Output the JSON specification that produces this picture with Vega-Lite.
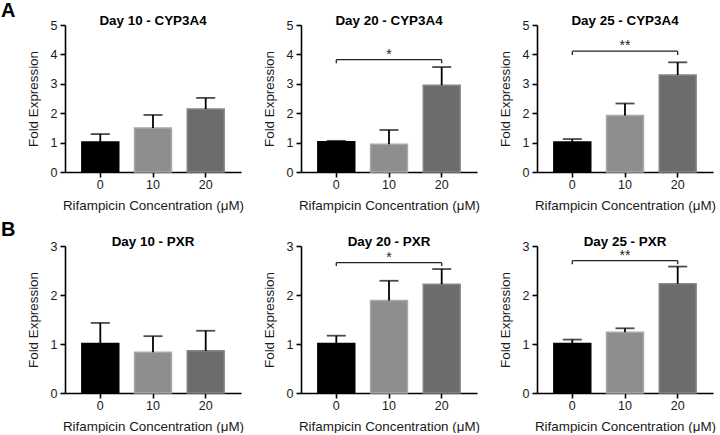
{
  "$schema": "https://vega.github.io/schema/vega-lite/v6.json",
  "padding": {"left": 1, "top": 1, "right": 0, "bottom": 0},
  "datasets": {
    "bars": [
      {"panel": "p1", "conc": "0", "mean": 1.02, "upper": 1.29},
      {"panel": "p1", "conc": "10", "mean": 1.50, "upper": 1.94},
      {"panel": "p1", "conc": "20", "mean": 2.14, "upper": 2.52},
      {"panel": "p2", "conc": "0", "mean": 1.03, "upper": 1.06},
      {"panel": "p2", "conc": "10", "mean": 0.94, "upper": 1.43},
      {"panel": "p2", "conc": "20", "mean": 2.95, "upper": 3.57},
      {"panel": "p3", "conc": "0", "mean": 1.02, "upper": 1.12},
      {"panel": "p3", "conc": "10", "mean": 1.92, "upper": 2.33},
      {"panel": "p3", "conc": "20", "mean": 3.30, "upper": 3.73},
      {"panel": "p4", "conc": "0", "mean": 1.01, "upper": 1.43},
      {"panel": "p4", "conc": "10", "mean": 0.83, "upper": 1.16},
      {"panel": "p4", "conc": "20", "mean": 0.86, "upper": 1.27},
      {"panel": "p5", "conc": "0", "mean": 1.01, "upper": 1.17},
      {"panel": "p5", "conc": "10", "mean": 1.89, "upper": 2.29},
      {"panel": "p5", "conc": "20", "mean": 2.22, "upper": 2.53},
      {"panel": "p6", "conc": "0", "mean": 1.01, "upper": 1.09},
      {"panel": "p6", "conc": "10", "mean": 1.24, "upper": 1.32},
      {"panel": "p6", "conc": "20", "mean": 2.23, "upper": 2.58}
    ],
    "sig": [
      {"panel": "p2", "from": "0", "to": "20", "mid": "10", "y": 3.82, "yd": 3.70, "label": "*"},
      {"panel": "p3", "from": "0", "to": "20", "mid": "10", "y": 4.11, "yd": 3.98, "label": "**"},
      {"panel": "p5", "from": "0", "to": "20", "mid": "10", "y": 2.66, "yd": 2.59, "label": "*"},
      {"panel": "p6", "from": "0", "to": "20", "mid": "10", "y": 2.70, "yd": 2.63, "label": "**"}
    ]
  },
  "spacing": 8,
  "vconcat": [
    {
      "title": {"text": "A", "anchor": "start", "frame": "bounds", "fontSize": 20, "fontWeight": "bold", "font": "Liberation Sans", "color": "#000", "dx": -25, "offset": -23, "baseline": "alphabetic"},
      "spacing": 18,
      "hconcat": [
        {
          "width": 176, "height": 147,
          "title": {"text": "Day 10 - CYP3A4"},
          "encoding": {"x": {"field": "conc", "type": "ordinal", "title": "Rifampicin Concentration (μM)", "sort": ["0", "10", "20"], "scale": {"domain": ["0", "10", "20"], "paddingInner": 0.3, "paddingOuter": 0.32}, "axis": {"labelAngle": 0}}},
          "layer": [
            {"data": {"name": "bars"}, "transform": [{"filter": "datum.panel === 'p1'"}],
             "layer": [
               {"mark": {"type": "bar", "strokeWidth": 1.5}, "encoding": {
                 "y": {"field": "mean", "type": "quantitative", "title": "Fold Expression", "scale": {"domain": [0, 5], "nice": false}, "axis": {"values": [0, 1, 2, 3, 4, 5]}},
                 "color": {"field": "conc", "type": "nominal", "scale": {"domain": ["0", "10", "20"], "range": ["#000000", "#8e8e8e", "#6c6c6c"]}, "legend": null},
                 "stroke": {"field": "conc", "type": "nominal", "scale": {"domain": ["0", "10", "20"], "range": ["#000000", "#a8a8a8", "#858585"]}, "legend": null}}},
               {"mark": {"type": "rule", "strokeWidth": 1.8, "color": "#000"}, "encoding": {"y": {"field": "mean", "type": "quantitative", "title": "Fold Expression", "axis": {"values": [0, 1, 2, 3, 4, 5]}}, "y2": {"field": "upper"}}},
               {"mark": {"type": "tick", "size": 19, "thickness": 1.8, "color": "#000"}, "encoding": {"y": {"field": "upper", "type": "quantitative", "title": "Fold Expression", "axis": {"values": [0, 1, 2, 3, 4, 5]}}}}
             ]}
          ]
        },
        {
          "width": 176, "height": 147,
          "title": {"text": "Day 20 - CYP3A4"},
          "encoding": {"x": {"field": "conc", "type": "ordinal", "title": "Rifampicin Concentration (μM)", "sort": ["0", "10", "20"], "scale": {"domain": ["0", "10", "20"], "paddingInner": 0.3, "paddingOuter": 0.32}, "axis": {"labelAngle": 0}}},
          "layer": [
            {"data": {"name": "bars"}, "transform": [{"filter": "datum.panel === 'p2'"}],
             "layer": [
               {"mark": {"type": "bar", "strokeWidth": 1.5}, "encoding": {
                 "y": {"field": "mean", "type": "quantitative", "title": "Fold Expression", "scale": {"domain": [0, 5], "nice": false}, "axis": {"values": [0, 1, 2, 3, 4, 5]}},
                 "color": {"field": "conc", "type": "nominal", "scale": {"domain": ["0", "10", "20"], "range": ["#000000", "#8e8e8e", "#6c6c6c"]}, "legend": null},
                 "stroke": {"field": "conc", "type": "nominal", "scale": {"domain": ["0", "10", "20"], "range": ["#000000", "#a8a8a8", "#858585"]}, "legend": null}}},
               {"mark": {"type": "rule", "strokeWidth": 1.8, "color": "#000"}, "encoding": {"y": {"field": "mean", "type": "quantitative", "title": "Fold Expression", "axis": {"values": [0, 1, 2, 3, 4, 5]}}, "y2": {"field": "upper"}}},
               {"mark": {"type": "tick", "size": 19, "thickness": 1.8, "color": "#000"}, "encoding": {"y": {"field": "upper", "type": "quantitative", "title": "Fold Expression", "axis": {"values": [0, 1, 2, 3, 4, 5]}}}}
             ]},
            {"data": {"name": "sig"}, "transform": [{"filter": "datum.panel === 'p2'"}],
             "layer": [
               {"mark": {"type": "rule", "strokeWidth": 1.3, "color": "#222"}, "encoding": {"x": {"field": "from", "type": "ordinal", "title": "Rifampicin Concentration (μM)"}, "x2": {"field": "to"}, "y": {"field": "y", "type": "quantitative", "title": "Fold Expression", "axis": {"values": [0, 1, 2, 3, 4, 5]}}}},
               {"mark": {"type": "rule", "strokeWidth": 1.3, "color": "#222"}, "encoding": {"x": {"field": "from", "type": "ordinal", "title": "Rifampicin Concentration (μM)"}, "y": {"field": "y", "type": "quantitative", "title": "Fold Expression", "axis": {"values": [0, 1, 2, 3, 4, 5]}}, "y2": {"field": "yd"}}},
               {"mark": {"type": "rule", "strokeWidth": 1.3, "color": "#222"}, "encoding": {"x": {"field": "to", "type": "ordinal", "title": "Rifampicin Concentration (μM)"}, "y": {"field": "y", "type": "quantitative", "title": "Fold Expression", "axis": {"values": [0, 1, 2, 3, 4, 5]}}, "y2": {"field": "yd"}}},
               {"mark": {"type": "text", "fontSize": 14, "baseline": "alphabetic", "dy": -1, "color": "#222"}, "encoding": {"x": {"field": "mid", "type": "ordinal", "title": "Rifampicin Concentration (μM)"}, "y": {"field": "y", "type": "quantitative", "title": "Fold Expression", "axis": {"values": [0, 1, 2, 3, 4, 5]}}, "text": {"field": "label"}}}
             ]}
          ]
        },
        {
          "width": 176, "height": 147,
          "title": {"text": "Day 25 - CYP3A4"},
          "encoding": {"x": {"field": "conc", "type": "ordinal", "title": "Rifampicin Concentration (μM)", "sort": ["0", "10", "20"], "scale": {"domain": ["0", "10", "20"], "paddingInner": 0.3, "paddingOuter": 0.32}, "axis": {"labelAngle": 0}}},
          "layer": [
            {"data": {"name": "bars"}, "transform": [{"filter": "datum.panel === 'p3'"}],
             "layer": [
               {"mark": {"type": "bar", "strokeWidth": 1.5}, "encoding": {
                 "y": {"field": "mean", "type": "quantitative", "title": "Fold Expression", "scale": {"domain": [0, 5], "nice": false}, "axis": {"values": [0, 1, 2, 3, 4, 5]}},
                 "color": {"field": "conc", "type": "nominal", "scale": {"domain": ["0", "10", "20"], "range": ["#000000", "#8e8e8e", "#6c6c6c"]}, "legend": null},
                 "stroke": {"field": "conc", "type": "nominal", "scale": {"domain": ["0", "10", "20"], "range": ["#000000", "#a8a8a8", "#858585"]}, "legend": null}}},
               {"mark": {"type": "rule", "strokeWidth": 1.8, "color": "#000"}, "encoding": {"y": {"field": "mean", "type": "quantitative", "title": "Fold Expression", "axis": {"values": [0, 1, 2, 3, 4, 5]}}, "y2": {"field": "upper"}}},
               {"mark": {"type": "tick", "size": 19, "thickness": 1.8, "color": "#000"}, "encoding": {"y": {"field": "upper", "type": "quantitative", "title": "Fold Expression", "axis": {"values": [0, 1, 2, 3, 4, 5]}}}}
             ]},
            {"data": {"name": "sig"}, "transform": [{"filter": "datum.panel === 'p3'"}],
             "layer": [
               {"mark": {"type": "rule", "strokeWidth": 1.3, "color": "#222"}, "encoding": {"x": {"field": "from", "type": "ordinal", "title": "Rifampicin Concentration (μM)"}, "x2": {"field": "to"}, "y": {"field": "y", "type": "quantitative", "title": "Fold Expression", "axis": {"values": [0, 1, 2, 3, 4, 5]}}}},
               {"mark": {"type": "rule", "strokeWidth": 1.3, "color": "#222"}, "encoding": {"x": {"field": "from", "type": "ordinal", "title": "Rifampicin Concentration (μM)"}, "y": {"field": "y", "type": "quantitative", "title": "Fold Expression", "axis": {"values": [0, 1, 2, 3, 4, 5]}}, "y2": {"field": "yd"}}},
               {"mark": {"type": "rule", "strokeWidth": 1.3, "color": "#222"}, "encoding": {"x": {"field": "to", "type": "ordinal", "title": "Rifampicin Concentration (μM)"}, "y": {"field": "y", "type": "quantitative", "title": "Fold Expression", "axis": {"values": [0, 1, 2, 3, 4, 5]}}, "y2": {"field": "yd"}}},
               {"mark": {"type": "text", "fontSize": 14, "baseline": "alphabetic", "dy": -1, "color": "#222"}, "encoding": {"x": {"field": "mid", "type": "ordinal", "title": "Rifampicin Concentration (μM)"}, "y": {"field": "y", "type": "quantitative", "title": "Fold Expression", "axis": {"values": [0, 1, 2, 3, 4, 5]}}, "text": {"field": "label"}}}
             ]}
          ]
        }
      ]
    },
    {
      "title": {"text": "B", "anchor": "start", "frame": "bounds", "fontSize": 20, "fontWeight": "bold", "font": "Liberation Sans", "color": "#000", "dx": -25, "offset": -21, "baseline": "alphabetic"},
      "spacing": 18,
      "hconcat": [
        {
          "width": 176, "height": 147,
          "title": {"text": "Day 10 - PXR"},
          "encoding": {"x": {"field": "conc", "type": "ordinal", "title": "Rifampicin Concentration (μM)", "sort": ["0", "10", "20"], "scale": {"domain": ["0", "10", "20"], "paddingInner": 0.3, "paddingOuter": 0.32}, "axis": {"labelAngle": 0}}},
          "layer": [
            {"data": {"name": "bars"}, "transform": [{"filter": "datum.panel === 'p4'"}],
             "layer": [
               {"mark": {"type": "bar", "strokeWidth": 1.5}, "encoding": {
                 "y": {"field": "mean", "type": "quantitative", "title": "Fold Expression", "scale": {"domain": [0, 3], "nice": false}, "axis": {"values": [0, 1, 2, 3]}},
                 "color": {"field": "conc", "type": "nominal", "scale": {"domain": ["0", "10", "20"], "range": ["#000000", "#8e8e8e", "#6c6c6c"]}, "legend": null},
                 "stroke": {"field": "conc", "type": "nominal", "scale": {"domain": ["0", "10", "20"], "range": ["#000000", "#a8a8a8", "#858585"]}, "legend": null}}},
               {"mark": {"type": "rule", "strokeWidth": 1.8, "color": "#000"}, "encoding": {"y": {"field": "mean", "type": "quantitative", "title": "Fold Expression", "axis": {"values": [0, 1, 2, 3]}}, "y2": {"field": "upper"}}},
               {"mark": {"type": "tick", "size": 19, "thickness": 1.8, "color": "#000"}, "encoding": {"y": {"field": "upper", "type": "quantitative", "title": "Fold Expression", "axis": {"values": [0, 1, 2, 3]}}}}
             ]}
          ]
        },
        {
          "width": 176, "height": 147,
          "title": {"text": "Day 20 - PXR"},
          "encoding": {"x": {"field": "conc", "type": "ordinal", "title": "Rifampicin Concentration (μM)", "sort": ["0", "10", "20"], "scale": {"domain": ["0", "10", "20"], "paddingInner": 0.3, "paddingOuter": 0.32}, "axis": {"labelAngle": 0}}},
          "layer": [
            {"data": {"name": "bars"}, "transform": [{"filter": "datum.panel === 'p5'"}],
             "layer": [
               {"mark": {"type": "bar", "strokeWidth": 1.5}, "encoding": {
                 "y": {"field": "mean", "type": "quantitative", "title": "Fold Expression", "scale": {"domain": [0, 3], "nice": false}, "axis": {"values": [0, 1, 2, 3]}},
                 "color": {"field": "conc", "type": "nominal", "scale": {"domain": ["0", "10", "20"], "range": ["#000000", "#8e8e8e", "#6c6c6c"]}, "legend": null},
                 "stroke": {"field": "conc", "type": "nominal", "scale": {"domain": ["0", "10", "20"], "range": ["#000000", "#a8a8a8", "#858585"]}, "legend": null}}},
               {"mark": {"type": "rule", "strokeWidth": 1.8, "color": "#000"}, "encoding": {"y": {"field": "mean", "type": "quantitative", "title": "Fold Expression", "axis": {"values": [0, 1, 2, 3]}}, "y2": {"field": "upper"}}},
               {"mark": {"type": "tick", "size": 19, "thickness": 1.8, "color": "#000"}, "encoding": {"y": {"field": "upper", "type": "quantitative", "title": "Fold Expression", "axis": {"values": [0, 1, 2, 3]}}}}
             ]},
            {"data": {"name": "sig"}, "transform": [{"filter": "datum.panel === 'p5'"}],
             "layer": [
               {"mark": {"type": "rule", "strokeWidth": 1.3, "color": "#222"}, "encoding": {"x": {"field": "from", "type": "ordinal", "title": "Rifampicin Concentration (μM)"}, "x2": {"field": "to"}, "y": {"field": "y", "type": "quantitative", "title": "Fold Expression", "axis": {"values": [0, 1, 2, 3]}}}},
               {"mark": {"type": "rule", "strokeWidth": 1.3, "color": "#222"}, "encoding": {"x": {"field": "from", "type": "ordinal", "title": "Rifampicin Concentration (μM)"}, "y": {"field": "y", "type": "quantitative", "title": "Fold Expression", "axis": {"values": [0, 1, 2, 3]}}, "y2": {"field": "yd"}}},
               {"mark": {"type": "rule", "strokeWidth": 1.3, "color": "#222"}, "encoding": {"x": {"field": "to", "type": "ordinal", "title": "Rifampicin Concentration (μM)"}, "y": {"field": "y", "type": "quantitative", "title": "Fold Expression", "axis": {"values": [0, 1, 2, 3]}}, "y2": {"field": "yd"}}},
               {"mark": {"type": "text", "fontSize": 14, "baseline": "alphabetic", "dy": -1, "color": "#222"}, "encoding": {"x": {"field": "mid", "type": "ordinal", "title": "Rifampicin Concentration (μM)"}, "y": {"field": "y", "type": "quantitative", "title": "Fold Expression", "axis": {"values": [0, 1, 2, 3]}}, "text": {"field": "label"}}}
             ]}
          ]
        },
        {
          "width": 176, "height": 147,
          "title": {"text": "Day 25 - PXR"},
          "encoding": {"x": {"field": "conc", "type": "ordinal", "title": "Rifampicin Concentration (μM)", "sort": ["0", "10", "20"], "scale": {"domain": ["0", "10", "20"], "paddingInner": 0.3, "paddingOuter": 0.32}, "axis": {"labelAngle": 0}}},
          "layer": [
            {"data": {"name": "bars"}, "transform": [{"filter": "datum.panel === 'p6'"}],
             "layer": [
               {"mark": {"type": "bar", "strokeWidth": 1.5}, "encoding": {
                 "y": {"field": "mean", "type": "quantitative", "title": "Fold Expression", "scale": {"domain": [0, 3], "nice": false}, "axis": {"values": [0, 1, 2, 3]}},
                 "color": {"field": "conc", "type": "nominal", "scale": {"domain": ["0", "10", "20"], "range": ["#000000", "#8e8e8e", "#6c6c6c"]}, "legend": null},
                 "stroke": {"field": "conc", "type": "nominal", "scale": {"domain": ["0", "10", "20"], "range": ["#000000", "#a8a8a8", "#858585"]}, "legend": null}}},
               {"mark": {"type": "rule", "strokeWidth": 1.8, "color": "#000"}, "encoding": {"y": {"field": "mean", "type": "quantitative", "title": "Fold Expression", "axis": {"values": [0, 1, 2, 3]}}, "y2": {"field": "upper"}}},
               {"mark": {"type": "tick", "size": 19, "thickness": 1.8, "color": "#000"}, "encoding": {"y": {"field": "upper", "type": "quantitative", "title": "Fold Expression", "axis": {"values": [0, 1, 2, 3]}}}}
             ]},
            {"data": {"name": "sig"}, "transform": [{"filter": "datum.panel === 'p6'"}],
             "layer": [
               {"mark": {"type": "rule", "strokeWidth": 1.3, "color": "#222"}, "encoding": {"x": {"field": "from", "type": "ordinal", "title": "Rifampicin Concentration (μM)"}, "x2": {"field": "to"}, "y": {"field": "y", "type": "quantitative", "title": "Fold Expression", "axis": {"values": [0, 1, 2, 3]}}}},
               {"mark": {"type": "rule", "strokeWidth": 1.3, "color": "#222"}, "encoding": {"x": {"field": "from", "type": "ordinal", "title": "Rifampicin Concentration (μM)"}, "y": {"field": "y", "type": "quantitative", "title": "Fold Expression", "axis": {"values": [0, 1, 2, 3]}}, "y2": {"field": "yd"}}},
               {"mark": {"type": "rule", "strokeWidth": 1.3, "color": "#222"}, "encoding": {"x": {"field": "to", "type": "ordinal", "title": "Rifampicin Concentration (μM)"}, "y": {"field": "y", "type": "quantitative", "title": "Fold Expression", "axis": {"values": [0, 1, 2, 3]}}, "y2": {"field": "yd"}}},
               {"mark": {"type": "text", "fontSize": 14, "baseline": "alphabetic", "dy": -1, "color": "#222"}, "encoding": {"x": {"field": "mid", "type": "ordinal", "title": "Rifampicin Concentration (μM)"}, "y": {"field": "y", "type": "quantitative", "title": "Fold Expression", "axis": {"values": [0, 1, 2, 3]}}, "text": {"field": "label"}}}
             ]}
          ]
        }
      ]
    }
  ],
  "config": {
    "view": {"stroke": null},
    "font": "Liberation Sans",
    "axis": {"grid": false, "domainColor": "#000", "domainWidth": 1.6, "tickColor": "#000", "tickWidth": 1.6, "tickSize": 5, "labelFont": "Liberation Sans", "labelFontSize": 12.5, "labelColor": "#1a1a1a", "titleFont": "Liberation Sans", "titleFontSize": 13.4, "titleFontWeight": "normal", "titleColor": "#1a1a1a", "labelPadding": 3},
    "axisX": {"titlePadding": 8, "labelPadding": 1},
    "axisY": {"titlePadding": 10},
    "title": {"font": "Liberation Sans", "fontSize": 13.4, "fontWeight": "bold", "color": "#000", "offset": -8.5, "baseline": "alphabetic"}
  }
}
